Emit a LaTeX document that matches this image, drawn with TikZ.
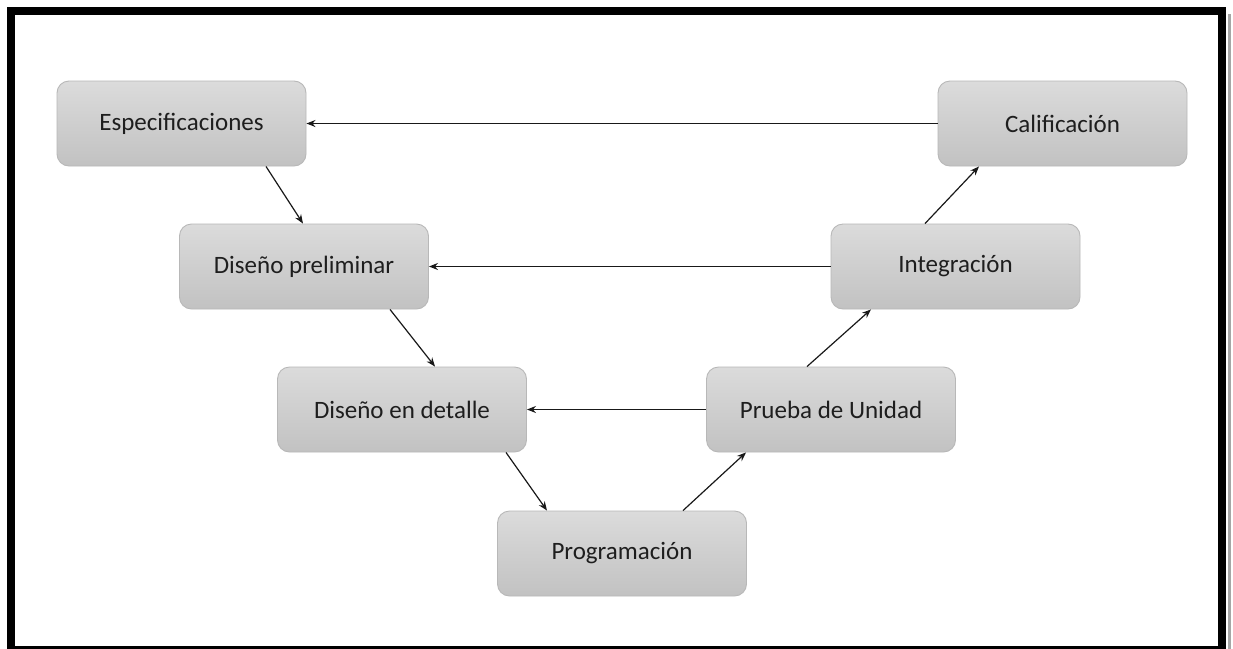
\documentclass[tikz,border=0pt]{standalone}
\usepackage{fontspec}
\setmainfont{Carlito}
\usetikzlibrary{arrows.meta}
\definecolor{txt}{HTML}{1E1E1E}
\tikzset{
  phase/.style={rectangle, rounded corners=12pt, draw=black!28, line width=0.9pt,
    top color=black!14, bottom color=black!24,
    minimum width=249pt, minimum height=85pt, inner sep=0pt,
    font=\fontsize{25pt}{29pt}\selectfont, text=txt},
  link/.style={line width=1.2pt, draw=black!90,
    -{Stealth[length=9pt,width=7pt]}},
}
\begin{document}
\begin{tikzpicture}[x=1pt, y=-1pt]
\useasboundingbox (0,0) rectangle (1233,648);
\fill[white] (0,0) rectangle (1233,648);
% outer frame with a faint shadow on the right
\begin{scope}
\clip (0,0) rectangle (1233,648);
\draw[black!35, line width=3pt] (1229,14) -- (1229,652);
\draw[black, line width=8.5pt] (11,11) rectangle (1222,650);
\end{scope}

% phases of the V model
\node[phase] (esp)  at (181.5,123.5) {Especificaciones};
\node[phase] (cal)  at (1062.5,123.5) {Calificación};
\node[phase] (dp)   at (304,266.5) {Diseño preliminar};
\node[phase] (int)  at (955.5,266.5) {Integración};
\node[phase] (dd)   at (402,409.5) {Diseño en detalle};
\node[phase] (pu)   at (831,409.5) {Prueba de Unidad};
\node[phase] (prog) at (622,553.5) {Programación};

% horizontal feedback links
\draw[link] (cal.west) -- (esp.east);
\draw[link] (int.west) -- (dp.east);
\draw[link] (pu.west)  -- (dd.east);

% descending branch
\draw[link] ([xshift=84.5pt]esp.south) -- ([xshift=-1pt]dp.north);
\draw[link] ([xshift=86pt]dp.south)    -- ([xshift=33pt]dd.north);
\draw[link] ([xshift=104pt]dd.south)   -- ([xshift=-75pt]prog.north);
% ascending branch
\draw[link] ([xshift=61pt]prog.north)  -- ([xshift=-85pt]pu.south);
\draw[link] ([xshift=-24pt]pu.north)   -- ([xshift=-84.5pt]int.south);
\draw[link] ([xshift=-30.5pt]int.north) -- ([xshift=-83.5pt]cal.south);
\end{tikzpicture}
\end{document}
